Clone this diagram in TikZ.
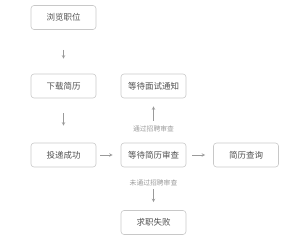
\documentclass[tikz,border=0pt]{standalone}
\usepackage{fontspec}
\setmainfont{Noto Sans CJK SC}
\definecolor{boxline}{HTML}{C8C8C8}
\definecolor{boxtext}{HTML}{505050}
\definecolor{softtext}{HTML}{9A9A9A}
\begin{document}
\begin{tikzpicture}[x=1pt, y=-1pt,
    stepbox/.style={draw=boxline, line width=0.6pt, rounded corners=3pt,
      minimum width=65pt, minimum height=24pt, inner sep=0pt,
      font=\fontsize{8.5}{10}\selectfont, text=boxtext},
    flow/.style={draw=softtext, line width=0.6pt, -stealth},
    cond/.style={font=\fontsize{6.8}{8}\selectfont, text=softtext, inner sep=1pt}]
  \useasboundingbox (0,0) rectangle (300,241);
  \foreach \nm/\xv/\yv/\txt in {browse/63.5/17.5/浏览职位, download/63.5/86/下载简历,
                                deliver/63.5/155/投递成功, review/153.5/155/等待简历审查,
                                notice/153.5/86/等待面试通知, query/246/155/简历查询,
                                failed/153.5/222.5/求职失败} {
    \node[stepbox] (\nm) at (\xv,\yv) {\txt};
  }
  \node[cond] (pass) at (153.5,129) {通过招聘审查};
  \node[cond] (reject) at (153.5,183) {未通过招聘审查};

  \draw[flow, shorten <=20pt, shorten >=15pt] (browse) -- (download);
  \draw[flow, shorten <=15pt, shorten >=17pt] (download) -- (deliver);
  \draw[flow, shorten <=4pt, shorten >=8pt] (deliver) -- (review);
  \draw[flow, shorten <=6pt, shorten >=8pt] (review) -- (query);
  \draw[flow, shorten <=4pt, shorten >=8pt] (pass) -- (notice);
  \draw[flow, shorten <=2pt, shorten >=8pt] (reject) -- (failed);
\end{tikzpicture}
\end{document}
